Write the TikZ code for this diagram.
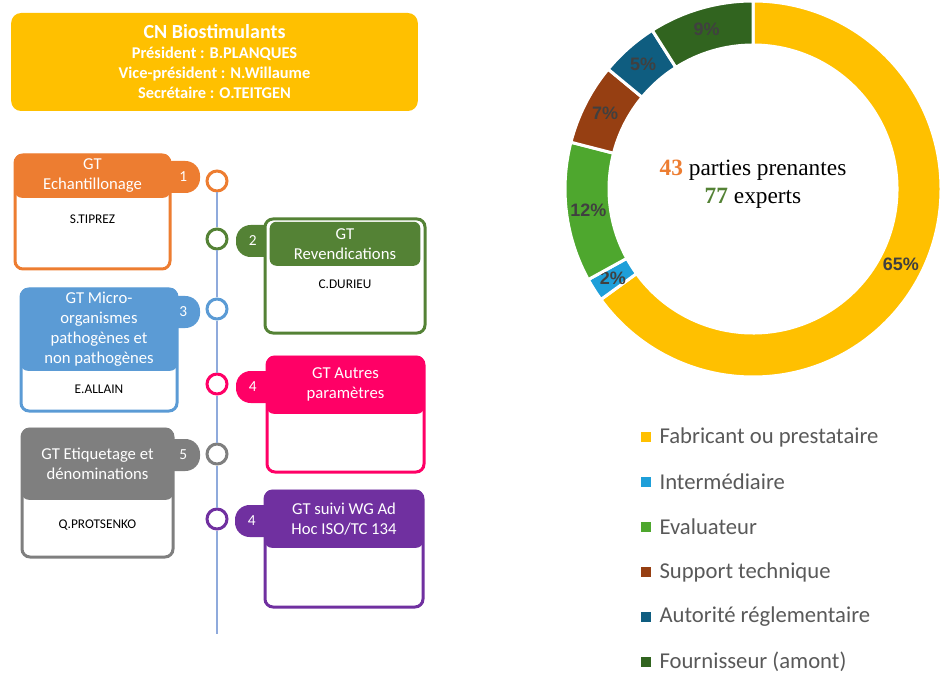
\documentclass[tikz,border=0pt]{standalone}
\usepackage{fontspec}
\setmainfont{Carlito}
\newfontfamily\timesfont{Liberation Serif}
\newfontfamily\arialfont{Liberation Sans}
\usetikzlibrary{positioning}
\definecolor{cnyellow}{HTML}{FFC000}
\definecolor{gtorange}{HTML}{ED7D31}
\definecolor{gtgreen}{HTML}{548235}
\definecolor{gtblue}{HTML}{5B9BD5}
\definecolor{gtpink}{HTML}{FF0066}
\definecolor{gtgray}{HTML}{7F7F7F}
\definecolor{gtpurple}{HTML}{7030A0}
\definecolor{tline}{HTML}{8FAADC}
\definecolor{pyel}{HTML}{FFC000}
\definecolor{pblu}{HTML}{1E9FD9}
\definecolor{pgrn}{HTML}{4EA72E}
\definecolor{pbrn}{HTML}{963F12}
\definecolor{pteal}{HTML}{0F5D80}
\definecolor{pdkg}{HTML}{31641F}
\definecolor{keytext}{HTML}{595959}
\definecolor{pcttext}{HTML}{404040}
\begin{document}
\begin{tikzpicture}[x=0.75pt,y=-0.75pt,
	card/.style={draw=#1, line width=2.25pt, fill=white, rounded corners=6pt, inner sep=0pt},
	head/.style={fill=#1, rounded corners=5pt, text=white, align=center, inner sep=0pt, font=\fontsize{12.5}{15}\selectfont},
	tab/.style={fill=#1, rounded corners=11pt, minimum width=37.5pt, minimum height=24pt, inner sep=0pt},
	num/.style={text=white, inner sep=0pt, font=\fontsize{11.5}{12}\selectfont},
	dot/.style={circle, draw=#1, line width=2.25pt, fill=white, minimum size=15pt, inner sep=0pt},
	who/.style={inner sep=0pt, font=\fontsize{10}{12}\selectfont},
	pct/.style={text=pcttext, font=\arialfont\bfseries\fontsize{13.5}{15}\selectfont},
	key/.style={fill=#1, minimum size=7.5pt, inner sep=0pt},
	keylabel/.style={text=keytext, inner sep=0pt, font=\fontsize{17}{20}\selectfont}]
	\useasboundingbox (0,0) rectangle (941,673);
	% bureau
	\node (cn) [fill=cnyellow, rounded corners=7.5pt, minimum width=305pt, minimum height=73.5pt, text=white, align=center, font=\bfseries\fontsize{12.3}{15}\selectfont] at (214.5,62)
		{{\fontsize{15}{16}\selectfont CN Biostimulants}\\Président : B.PLANQUES\\Vice-président : N.Willaume\\Secrétaire : O.TEITGEN};
	% frise
	\node (d1) [dot=gtorange] at (217,181) {};
	\node (d2) [dot=gtgreen] at (217,239) {};
	\node (d3) [dot=gtblue] at (217,309) {};
	\node (d4) [dot=gtpink] at (217,384) {};
	\node (d5) [dot=gtgray] at (217,454) {};
	\node (d6) [dot=gtpurple] at (217,519) {};
	\coordinate (lbot) at (217,634);
	\draw[tline, line width=0.9pt] (d1) -- (d2) -- (d3) -- (d4) -- (d5) -- (d6) -- (lbot);
	% GT 1
	\node (t1) [tab=gtorange] at (175,177) {};
	\node (n1) [num] at ([xshift=-12.75pt]t1.east) {1};
	\node (c1) [card=gtorange, minimum width=116.25pt, minimum height=85.5pt] at (92.5,212) {};
	\node (h1) [head=gtorange, minimum width=116.25pt, minimum height=33pt, below=0pt of c1.north] {GT\\Echantillonage};
	\node (w1) [who] at ([yshift=-16pt]h1.south) {S.TIPREZ};
	% GT 2
	\node (t2) [tab=gtgreen] at (261,241) {};
	\node (n2) [num] at ([xshift=12.75pt]t2.west) {2};
	\node (c2) [card=gtgreen, minimum width=120pt, minimum height=85.5pt] at (345,276) {};
	\node (h2) [head=gtgreen, minimum width=113pt, minimum height=33pt, below=3pt of c2.north] {GT\\Revendications};
	\node (w2) [who] at ([yshift=-14pt]h2.south) {C.DURIEU};
	% GT 3
	\node (t3) [tab=gtblue] at (175,312) {};
	\node (n3) [num] at ([xshift=-12.75pt]t3.east) {3};
	\node (c3) [card=gtblue, minimum width=117pt, minimum height=91.5pt] at (99,350) {};
	\node (h3) [head=gtblue, minimum width=117pt, minimum height=62.25pt, below=0pt of c3.north] {GT Micro-\\organismes\\pathogènes et\\non pathogènes};
	\node (w3) [who] at ([yshift=-14pt]h3.south) {E.ALLAIN};
	% GT 4
	\node (t4) [tab=gtpink] at (261,387) {};
	\node (n4) [num] at ([xshift=12.75pt]t4.west) {4};
	\node (c4) [card=gtpink, minimum width=117.75pt, minimum height=86.25pt] at (345.5,414.5) {};
	\node (h4) [head=gtpink, minimum width=117.75pt, minimum height=43.5pt, below=0pt of c4.north] {GT Autres\\paramètres};
	% GT 5
	\node (t5) [tab=gtgray] at (175,455) {};
	\node (n5) [num] at ([xshift=-12.75pt]t5.east) {5};
	\node (c5) [card=gtgray, minimum width=113.25pt, minimum height=96pt] at (97.5,493) {};
	\node (h5) [head=gtgray, minimum width=113.25pt, minimum height=54pt, below=0pt of c5.north] {GT Etiquetage et\\dénominations};
	\node (w5) [who] at ([yshift=-18.5pt]h5.south) {Q.PROTSENKO};
	% GT 6
	\node (t6) [tab=gtpurple] at (260,521) {};
	\node (n6) [num] at ([xshift=12.75pt]t6.west) {4};
	\node (c6) [card=gtpurple, minimum width=118.5pt, minimum height=87pt] at (344,549) {};
	\node (h6) [head=gtpurple, minimum width=118.5pt, minimum height=43.5pt, below=0pt of c6.north] {GT suivi WG Ad\\Hoc ISO/TC 134};
	% anneau
	\begin{scope}[shift={(753,189)}, y=0.75pt]
		\foreach \a/\b/\c/\p in {90/-144/pyel/65, -144/-151.2/pblu/2, -151.2/-194.4/pgrn/12, -194.4/-219.6/pbrn/7, -219.6/-237.6/pteal/5, -237.6/-270/pdkg/9}{
			\filldraw[fill=\c, draw=white, line width=2.25pt] (\a:144) -- (\a:188) arc[start angle=\a, end angle=\b, radius=188] -- (\b:144) arc[start angle=\b, end angle=\a, radius=144] -- cycle;
			\node (s\p) [pct] at ({(\a+\b)/2}:166) {\p\%};
		}
	\end{scope}
	\node (mid) [align=center, font=\timesfont\fontsize{17.5}{21}\selectfont] at (753,184)
		{\textcolor{gtorange}{\bfseries 43} parties prenantes\\\textcolor{gtgreen}{\bfseries 77} experts};
	% legende
	\foreach \c/\t [count=\i from 0] in {pyel/Fabricant ou prestataire, pblu/Intermédiaire, pgrn/Evaluateur, pbrn/Support technique, pteal/Autorité réglementaire, pdkg/Fournisseur (amont)}{
		\node (k\i) [key=\c] at (646,{437+45*\i}) {};
		\node (l\i) [keylabel, right=6pt of k\i] {\t};
	}
\end{tikzpicture}
\end{document}
